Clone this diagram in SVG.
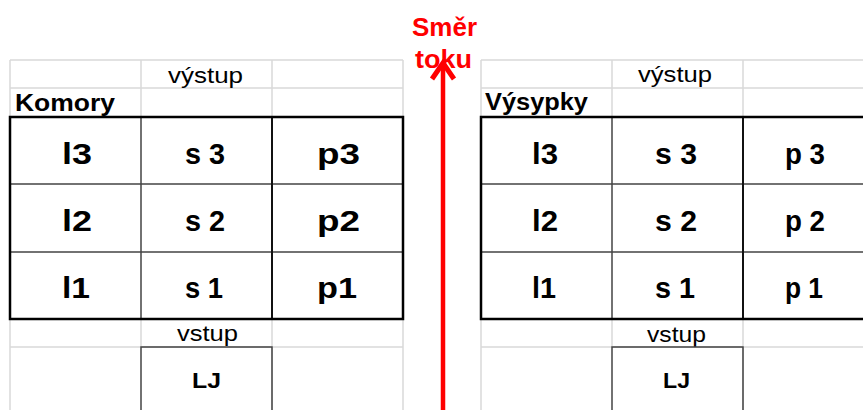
<svg xmlns="http://www.w3.org/2000/svg" width="863" height="410" viewBox="0 0 863 410">
<style>
.grid{stroke:#d9d9d9;stroke-width:1.5;fill:none}
.thick{stroke:#000;stroke-width:2.5;fill:none}
.thin{stroke:#444;stroke-width:1.5;fill:none}
.mid{stroke:#111;stroke-width:2;fill:none}
text{font-family:"Liberation Sans",Arial,sans-serif;fill:#000}
.cell{font-weight:bold;font-size:29px}
.lbl{font-size:22px}
.hdr{font-weight:bold;font-size:23px}
.lj{font-weight:bold;font-size:22px}
.red{font-weight:bold;font-size:25px;fill:#ff0000}
</style>
<rect width="863" height="410" fill="#fff"/>
<g id="grid-left">
<path class="grid" d="M10,60 H403 M10,88 H403 M10,347 H403 M10,60 V410 M141,60 V117 M141,319 V347 M272,60 V117 M272,319 V410 M403,60 V410"/>
</g>
<g id="grid-right">
<path class="grid" d="M481,60 H863 M481,88 H863 M481,347 H863 M481,60 V410 M612,60 V117 M612,319 V347 M743,60 V117 M743,319 V410"/>
</g>
<g id="komory">
<text class="lbl" x="168" y="83" textLength="75" lengthAdjust="spacingAndGlyphs">výstup</text>
<text class="hdr" x="15" y="111" textLength="100" lengthAdjust="spacingAndGlyphs">Komory</text>
<path class="thin" d="M141,117 V319 M10,184 H403 M10,252 H403"/>
<path class="mid" d="M272,117 V319"/>
<rect class="thick" x="10" y="117" width="393" height="202"/>
<text class="cell" x="62" y="164" textLength="30" lengthAdjust="spacingAndGlyphs">l3</text>
<text class="cell" x="185" y="164" textLength="40" lengthAdjust="spacingAndGlyphs">s 3</text>
<text class="cell" x="317" y="164" textLength="43" lengthAdjust="spacingAndGlyphs">p3</text>
<text class="cell" x="62" y="231" textLength="30" lengthAdjust="spacingAndGlyphs">l2</text>
<text class="cell" x="185" y="231" textLength="40" lengthAdjust="spacingAndGlyphs">s 2</text>
<text class="cell" x="317" y="231" textLength="43" lengthAdjust="spacingAndGlyphs">p2</text>
<text class="cell" x="62" y="298" textLength="28" lengthAdjust="spacingAndGlyphs">l1</text>
<text class="cell" x="185" y="298" textLength="38" lengthAdjust="spacingAndGlyphs">s 1</text>
<text class="cell" x="317" y="298" textLength="40" lengthAdjust="spacingAndGlyphs">p1</text>
<text class="lbl" x="177" y="341" textLength="61" lengthAdjust="spacingAndGlyphs">vstup</text>
</g>
<g id="lj-left">
<path class="thin" d="M141,410 V347 H272 V410"/>
<text class="lj" x="192" y="388" textLength="29" lengthAdjust="spacingAndGlyphs">LJ</text>
</g>
<g id="vysypky">
<text class="lbl" x="638" y="82" textLength="74" lengthAdjust="spacingAndGlyphs">výstup</text>
<text class="hdr" x="485" y="110" textLength="103" lengthAdjust="spacingAndGlyphs">Výsypky</text>
<path class="thin" d="M612,117 V319 M481,184 H863 M481,252 H863"/>
<path class="mid" d="M743,117 V319"/>
<path class="thick" d="M863,117 H481 V319 H863"/>
<text class="cell" x="532" y="164" textLength="26" lengthAdjust="spacingAndGlyphs">l3</text>
<text class="cell" x="655" y="164" textLength="42" lengthAdjust="spacingAndGlyphs">s 3</text>
<text class="cell" x="785" y="164" textLength="40" lengthAdjust="spacingAndGlyphs">p 3</text>
<text class="cell" x="532" y="231" textLength="26" lengthAdjust="spacingAndGlyphs">l2</text>
<text class="cell" x="655" y="231" textLength="42" lengthAdjust="spacingAndGlyphs">s 2</text>
<text class="cell" x="785" y="231" textLength="40" lengthAdjust="spacingAndGlyphs">p 2</text>
<text class="cell" x="532" y="298" textLength="24" lengthAdjust="spacingAndGlyphs">l1</text>
<text class="cell" x="655" y="298" textLength="40" lengthAdjust="spacingAndGlyphs">s 1</text>
<text class="cell" x="785" y="298" textLength="38" lengthAdjust="spacingAndGlyphs">p 1</text>
<text class="lbl" x="647" y="342" textLength="59" lengthAdjust="spacingAndGlyphs">vstup</text>
</g>
<g id="lj-right">
<path class="thin" d="M612,410 V347 H743 V410"/>
<text class="lj" x="663" y="388" textLength="27" lengthAdjust="spacingAndGlyphs">LJ</text>
</g>
<g id="connectors">
<line x1="443" y1="410" x2="443" y2="64" stroke="#ff0000" stroke-width="4.5"/>
<path d="M432,79 L443,63 L454,79" fill="none" stroke="#ff0000" stroke-width="5" stroke-linejoin="miter"/>
</g>
<g id="flow-label">
<text class="red" x="412" y="36" textLength="65" lengthAdjust="spacingAndGlyphs">Směr</text>
<text class="red" x="415" y="68" textLength="57" lengthAdjust="spacingAndGlyphs">toku</text>
</g>
</svg>
